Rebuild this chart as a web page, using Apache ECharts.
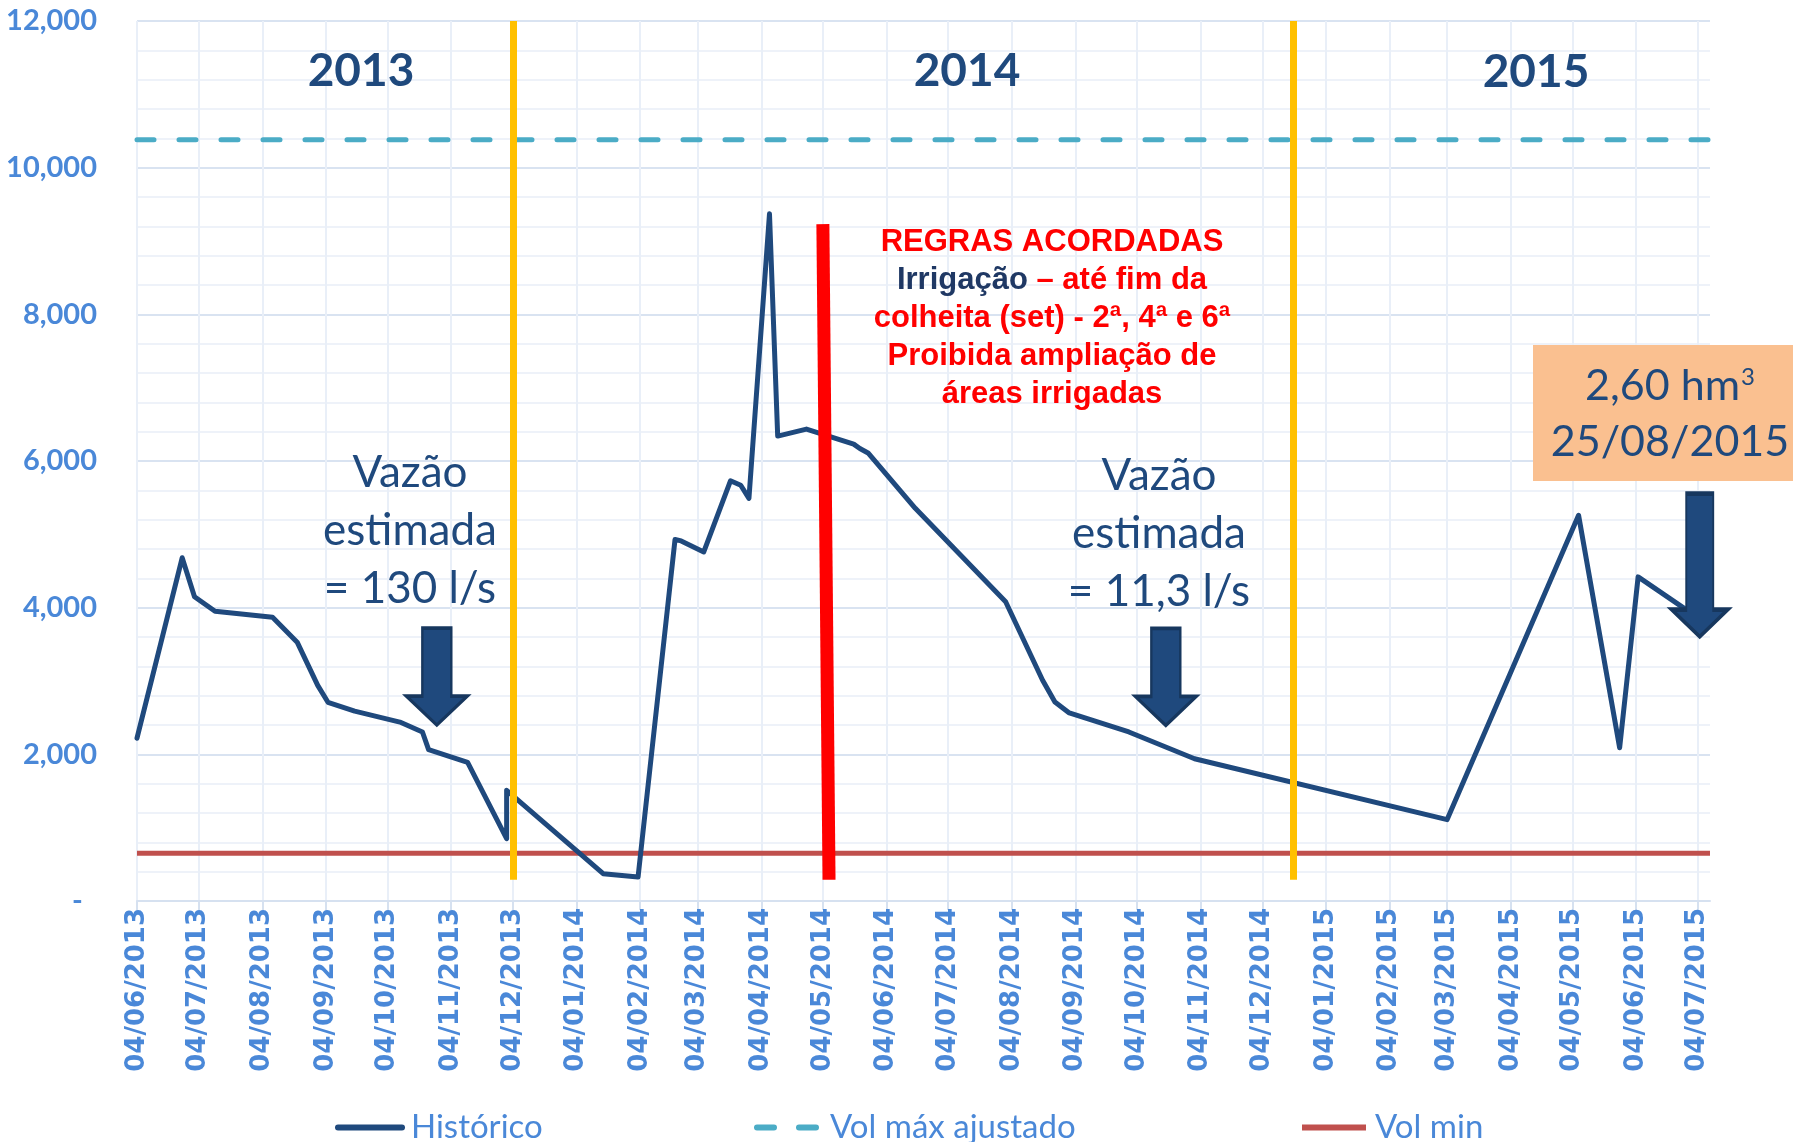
<!DOCTYPE html>
<html lang="pt">
<head>
<meta charset="UTF-8">
<title>Histórico do volume</title>
<script src="https://cdn.jsdelivr.net/npm/echarts@6/dist/echarts.min.js"></script>
<style>
  html, body { margin: 0; padding: 0; background: #fff; }
  #main { width: 1793px; height: 1142px; }
</style>
</head>
<body>
<div id="main"></div>
<script>
// --- data ---
const xTickLabels = [
  '04/06/2013', '04/07/2013', '04/08/2013', '04/09/2013', '04/10/2013', '04/11/2013', '04/12/2013',
  '04/01/2014', '04/02/2014', '04/03/2014', '04/04/2014', '04/05/2014', '04/06/2014', '04/07/2014',
  '04/08/2014', '04/09/2014', '04/10/2014', '04/11/2014', '04/12/2014',
  '04/01/2015', '04/02/2015', '04/03/2015', '04/04/2015', '04/05/2015', '04/06/2015', '04/07/2015'
];

const historicoDates = [
  '2013-06-04', '2013-06-26', '2013-07-02', '2013-07-12', '2013-08-09', '2013-08-21', '2013-08-31',
  '2013-09-05', '2013-09-18', '2013-10-10', '2013-10-21', '2013-10-24', '2013-11-12', '2013-12-01',
  '2013-12-01', '2014-01-17', '2014-02-03', '2014-02-21', '2014-02-24', '2014-03-07', '2014-03-20',
  '2014-03-25', '2014-03-29', '2014-04-08', '2014-04-12', '2014-04-26', '2014-05-19', '2014-05-22',
  '2014-05-26', '2014-06-18', '2014-08-01', '2014-08-19', '2014-08-25', '2014-09-01', '2014-09-30',
  '2014-11-01', '2015-03-04', '2015-05-07', '2015-05-27', '2015-06-05', '2015-07-08'
];
const historicoValues = [
  2220, 4680, 4150, 3950, 3870, 3530, 2940,
  2710, 2590, 2440, 2305, 2065, 1890, 850,
  1510, 372, 326, 4930, 4910, 4760, 5730,
  5670, 5490, 9370, 6340, 6435, 6230, 6170,
  6110, 5355, 4080, 3010, 2715, 2565, 2305,
  1940, 1110, 5260, 2090, 4420, 3790
];

const volMaxAjustado = 10380;
const volMin = 650;
const axisStart = '2013-06-04';
const axisEnd = '2015-07-10';

// vertical marks (year breaks, agreed rules) and arrows
const yearBreakDates = ['2013-12-04', '2014-12-19'];
const yearBreakRange = [290, 12000];
const regrasDates = ['2014-05-04', '2014-05-07'];
const regrasValues = [9230, 290];
const arrowDates = ['2013-10-28', '2014-10-18', '2015-07-05'];
const arrowValues = [3060, 3055, 4580];

function ts(s) {
  const p = s.split('-');
  return new Date(+p[0], +p[1] - 1, +p[2]).getTime();
}
function tsDMY(s) {
  const p = s.split('/');
  return new Date(+p[2], +p[1] - 1, +p[0]).getTime();
}
const xTickValues = xTickLabels.map(tsDMY);

const blueText = '#4a88d8';
const navy = '#1f497d';

const arrowShort = 'path://M16,0 L45,0 L45,68 L61,68 L30.5,97 L0,68 L16,68 Z';
const arrowLong = 'path://M14.5,0 L41.5,0 L41.5,116 L56,116 L28,143 L0,116 L14.5,116 Z';

let chart = echarts.init(document.getElementById('main'));

chart.setOption({
  animation: false,
  backgroundColor: '#ffffff',
  textStyle: { fontFamily: 'Lato' },
  grid: { left: 137, right: 83, top: 21, bottom: 241, outerBoundsMode: 'none' },
  legend: [
    { left: 330, top: 1106, data: ['Histórico'] },
    { left: 749, top: 1106, data: ['Vol máx ajustado'] },
    { left: 1294, top: 1106, data: ['Vol min'] }
  ].map(function (l) {
    return Object.assign({
      itemWidth: 64,
      itemHeight: 14,
      itemGap: 6,
      selectedMode: false,
      itemStyle: { opacity: 0 },
      lineStyle: { width: 6 },
      textStyle: { color: blueText, fontFamily: 'Lato', fontSize: 33, padding: [0, 0, 0, 4] }
    }, l);
  }),
  xAxis: {
    type: 'value',
    min: ts(axisStart),
    max: ts(axisEnd),
    axisLine: { lineStyle: { color: '#d6e1f0', width: 2 } },
    axisTick: { show: true, customValues: xTickValues, length: 9, lineStyle: { color: '#d6e1f0', width: 2 } },
    axisLabel: {
      customValues: xTickValues,
      rotate: 90,
      margin: 7,
      color: blueText,
      fontFamily: 'DejaVu Sans',
      fontWeight: 'bold',
      fontSize: 26,
      formatter: function (v) {
        const i = xTickValues.indexOf(v);
        return i >= 0 ? xTickLabels[i] : '';
      }
    },
    splitLine: { show: true, lineStyle: { color: '#e9eff8', width: 2 } }
  },
  yAxis: {
    type: 'value',
    min: 0,
    max: 12000,
    interval: 2000,
    axisLine: { show: false },
    axisTick: { show: false },
    axisLabel: {
      color: blueText,
      fontFamily: 'Lato',
      fontWeight: 'bold',
      fontSize: 29,
      margin: 40,
      formatter: function (v) {
        return v === 0 ? '-  ' : String(v).replace(/\B(?=(\d{3})+(?!\d))/g, ',');
      }
    },
    splitLine: { lineStyle: { color: '#d9e3f1', width: 2 } },
    minorTick: { show: false, splitNumber: 5 },
    minorSplitLine: { show: true, lineStyle: { color: '#eef2f9', width: 2 } }
  },
  series: [
    {
      name: 'Vol min',
      type: 'line',
      z: 2,
      symbol: 'none',
      data: [[ts(axisStart), volMin], [ts(axisEnd), volMin]],
      lineStyle: { color: '#c0504d', width: 5 },
      itemStyle: { color: '#c0504d' }
    },
    {
      name: 'Vol máx ajustado',
      type: 'line',
      z: 2,
      symbol: 'none',
      data: [[ts(axisStart), volMaxAjustado], [ts(axisEnd), volMaxAjustado]],
      lineStyle: { color: '#4bacc6', width: 5, type: [17, 25], cap: 'round' },
      itemStyle: { color: '#4bacc6' }
    },
    {
      name: 'Histórico',
      type: 'line',
      z: 3,
      symbol: 'none',
      data: historicoDates.map(function (d, i) { return [ts(d), historicoValues[i]]; }),
      lineStyle: { color: navy, width: 5, join: 'round', cap: 'round' },
      itemStyle: { color: navy }
    },
    {
      name: 'marcas',
      type: 'line',
      z: 5,
      symbol: 'none',
      data: [],
      markLine: {
        silent: true,
        symbol: ['none', 'none'],
        label: { show: false },
        data: yearBreakDates.map(function (d) {
          return [
            { coord: [ts(d), yearBreakRange[0]], lineStyle: { color: '#ffc000', width: 7, type: 'solid' } },
            { coord: [ts(d), yearBreakRange[1]] }
          ];
        }).concat([[
          { coord: [ts(regrasDates[0]), regrasValues[0]], lineStyle: { color: '#ff0000', width: 13, type: 'solid' } },
          { coord: [ts(regrasDates[1]), regrasValues[1]] }
        ]])
      },
      markPoint: {
        silent: true,
        label: { show: false },
        itemStyle: { color: navy, borderColor: '#17375e', borderWidth: 3 },
        data: arrowDates.map(function (d, i) {
          const last = i === arrowDates.length - 1;
          return {
            coord: [ts(d), arrowValues[i]],
            symbol: last ? arrowLong : arrowShort,
            symbolSize: last ? [56, 143] : [61, 97],
            symbolKeepAspect: false
          };
        })
      }
    }
  ],
  graphic: [
    { type: 'text', x: 361, y: 71, z: 10, style: { text: '2013', fill: navy, font: 'bold 46px Lato', align: 'center', verticalAlign: 'middle' } },
    { type: 'text', x: 967, y: 71, z: 10, style: { text: '2014', fill: navy, font: 'bold 46px Lato', align: 'center', verticalAlign: 'middle' } },
    { type: 'text', x: 1536, y: 72, z: 10, style: { text: '2015', fill: navy, font: 'bold 46px Lato', align: 'center', verticalAlign: 'middle' } },
    {
      type: 'text', x: 1052, y: 318, z: 10,
      style: {
        text: '{r|REGRAS ACORDADAS}\n{b|Irrigação}{r| – até fim da}\n{r|colheita (set) - 2ª, 4ª e 6ª}\n{r|Proibida ampliação de}\n{r|áreas irrigadas}',
        align: 'center',
        verticalAlign: 'middle',
        rich: {
          r: { fill: '#ff0000', fontFamily: 'Liberation Sans', fontWeight: 'bold', fontSize: 31, lineHeight: 38 },
          b: { fill: '#1f3864', fontFamily: 'Liberation Sans', fontWeight: 'bold', fontSize: 31, lineHeight: 38 }
        }
      }
    },
    {
      type: 'text', x: 410, y: 531, z: 10,
      style: { text: 'Vazão\nestimada\n= 130 l/s', fill: navy, font: '44px Lato', lineHeight: 57.7, align: 'center', verticalAlign: 'middle' }
    },
    {
      type: 'text', x: 1159, y: 534, z: 10,
      style: { text: 'Vazão\nestimada\n= 11,3 l/s', fill: navy, font: '44px Lato', lineHeight: 57.7, align: 'center', verticalAlign: 'middle' }
    },
    { type: 'rect', z: 10, shape: { x: 1533, y: 345, width: 260, height: 136 }, style: { fill: '#fac090' } },
    {
      type: 'text', x: 1670, y: 414, z: 11,
      style: {
        text: '{n|2,60 hm}{s|3}\n{n|25/08/2015}',
        align: 'center',
        verticalAlign: 'middle',
        rich: {
          n: { fill: navy, fontFamily: 'Lato', fontSize: 43, lineHeight: 56.7 },
          s: { fill: navy, fontFamily: 'Lato', fontSize: 24, lineHeight: 24, verticalAlign: 'top', padding: [8, 0, 0, 1] }
        }
      }
    }
  ]
});
</script>
</body>
</html>
